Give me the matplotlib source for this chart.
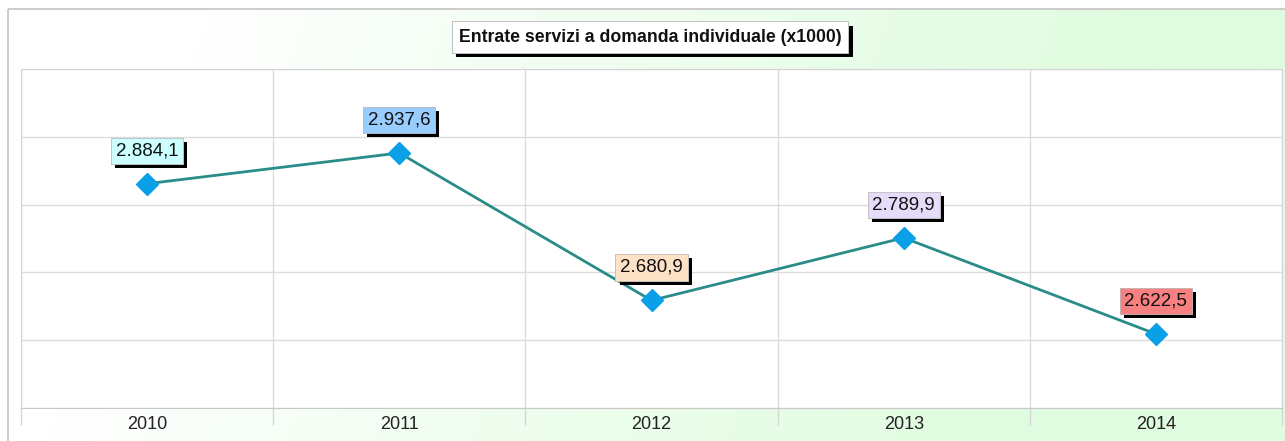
import numpy as np
import matplotlib
matplotlib.use("Agg")
import matplotlib.pyplot as plt
import matplotlib.patheffects as pe
from matplotlib.patches import Rectangle

years = ["2010", "2011", "2012", "2013", "2014"]
values = [2884.1, 2937.6, 2680.9, 2789.9, 2622.5]
labels = ["2.884,1", "2.937,6", "2.680,9", "2.789,9", "2.622,5"]
label_colors = ["#ccffff", "#99ccff", "#fde2c6", "#e6dcfa", "#f88080"]
title = "Entrate servizi a domanda individuale (x1000)"

W, H, DPI = 1285, 441, 100
plt.rcParams['font.family'] = ['Liberation Sans', 'DejaVu Sans']
fig = plt.figure(figsize=(W / DPI, H / DPI), dpi=DPI)
fig.patch.set_facecolor("white")

# background gradient panel
bg = fig.add_axes([0, 0, 1, 1])
bg.set_xlim(0, W)
bg.set_ylim(H, 0)
bg.axis("off")
xx = np.linspace(0, W, 400)
yy = np.linspace(0, H, 150)
X, Y = np.meshgrid(xx, yy)
t = np.clip((X - 110) / 950 + (Y - 250) / 2500, 0, 1) ** 0.9
green = np.array([224, 252, 224]) / 255.0
img = (1 - t)[..., None] * np.array([1, 1, 1]) + t[..., None] * green
frame = Rectangle((8, 9), W, H, facecolor="none", edgecolor="#c4c4c4", lw=1.2)
bg.add_patch(frame)
bg.imshow(img, extent=(8, W + 5, H + 5, 9), aspect="auto", zorder=0)

# main plot
x0, x1, ytop, ybot = 21, 1282, 69, 408
ax = fig.add_axes([x0 / W, 1 - ybot / H, (x1 - x0) / W, (ybot - ytop) / H])
ax.set_facecolor("white")
xs = np.arange(len(years))
ax.set_xlim(-0.5, len(years) - 0.5)
ax.set_ylim(2493.6, 3083.8)
ax.set_yticks(np.linspace(2493.6, 3083.8, 6))
ax.set_yticklabels([])
ax.tick_params(axis="y", length=0)
ax.set_xticks(xs)
ax.set_xticklabels(years, fontsize=13, color="#222222")
ax.tick_params(axis="x", which="major", length=0, pad=6)
ax.set_xticks(np.arange(-0.5, len(years)), minor=True)
ax.tick_params(axis="x", which="minor", length=12, color="#d6d6d6", width=1)
ax.grid(True, axis="y", color="#dcdcdc", lw=1)
ax.grid(True, axis="x", which="minor", color="#dcdcdc", lw=1)
for s in ["left", "top", "right"]:
    ax.spines[s].set_color("#d4d4d4")
ax.spines["bottom"].set_color("#c8c8c8")
ax.set_axisbelow(True)

ax.plot(xs, values, color="#2a8c88", lw=2, zorder=3)
ax.plot(xs, values, ls="none", marker="D", ms=11, color="#0aa0e8", mec="#0aa0e8", zorder=4)

for x, v, lab, c in zip(xs, values, labels, label_colors):
    a = ax.annotate(lab, (x, v), xytext=(0, 33), textcoords="offset pixels",
                    ha="center", va="center", fontsize=13.5, color="#111111", zorder=5,
                    bbox=dict(boxstyle="square,pad=0.25", fc=c, ec="#bbbbbb", lw=0.5))
    a.get_bbox_patch().set_path_effects([
        pe.withSimplePatchShadow(offset=(3, -3), shadow_rgbFace="black", alpha=1.0),
        pe.Normal()])

tt = fig.text(650 / W, 1 - 37 / H, title, ha="center", va="center",
              fontsize=12.7, fontweight="bold", color="#111111",
              bbox=dict(boxstyle="square,pad=0.4", fc="white", ec="#bbbbbb", lw=0.6))
tt.get_bbox_patch().set_path_effects([
    pe.withSimplePatchShadow(offset=(3, -3), shadow_rgbFace="black", alpha=1.0),
    pe.Normal()])

fig.savefig("out.png", dpi=DPI)
